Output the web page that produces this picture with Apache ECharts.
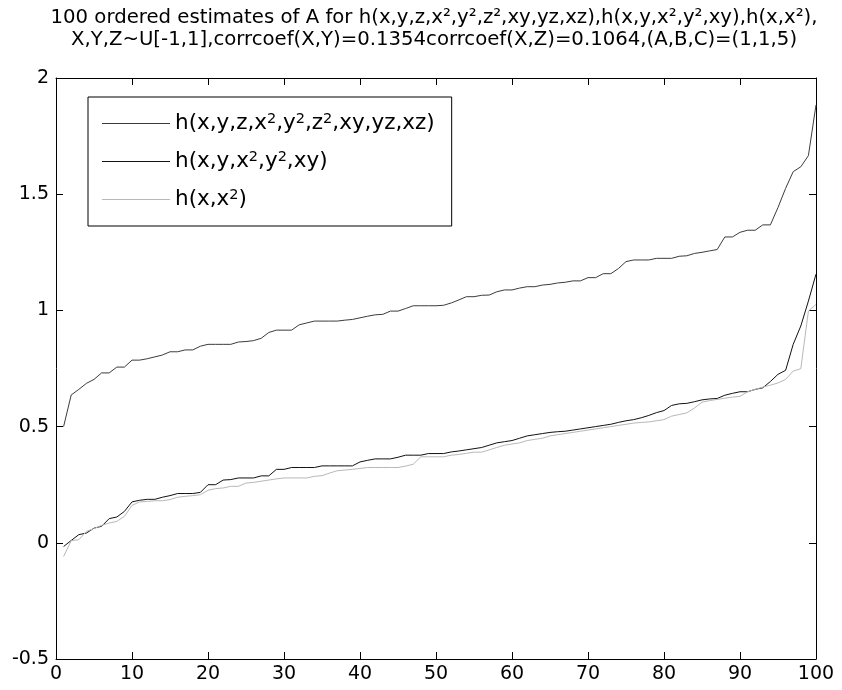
<!DOCTYPE html>
<html><head><meta charset="utf-8">
<script src="https://cdn.jsdelivr.net/npm/echarts@6/dist/echarts.min.js"></script>
<style>html,body{margin:0;padding:0;background:#fff}#c{width:842px;height:690px}</style>
</head><body><div id="c"></div>
<script>
const titleLines = [
  '100 ordered estimates of A for h(x,y,z,x\u00b2,y\u00b2,z\u00b2,xy,yz,xz),h(x,y,x\u00b2,y\u00b2,xy),h(x,x\u00b2),',
  'X,Y,Z~U[-1,1],corrcoef(X,Y)=0.1354corrcoef(X,Z)=0.1064,(A,B,C)=(1,1,5)'
];
const seriesNames = ['h(x,y,z,x\u00b2,y\u00b2,z\u00b2,xy,yz,xz)', 'h(x,y,x\u00b2,y\u00b2,xy)', 'h(x,x\u00b2)'];
const xIndex = [1,2,3,4,5,6,7,8,9,10,11,12,13,14,15,16,17,18,19,20,21,22,23,24,25,26,27,28,29,30,31,32,33,34,35,36,37,38,39,40,41,42,43,44,45,46,47,48,49,50,51,52,53,54,55,56,57,58,59,60,61,62,63,64,65,66,67,68,69,70,71,72,73,74,75,76,77,78,79,80,81,82,83,84,85,86,87,88,89,90,91,92,93,94,95,96,97,98,99,100];
const estA = [0.50,0.636,0.66,0.686,0.703,0.731,0.731,0.756,0.756,0.786,
 0.786,0.792,0.80,0.808,0.822,0.822,0.83,0.83,0.846,0.854,
 0.854,0.854,0.854,0.864,0.866,0.87,0.88,0.905,0.915,0.915,
 0.915,0.938,0.946,0.954,0.954,0.954,0.954,0.958,0.961,0.968,
 0.975,0.981,0.983,0.997,0.997,1.008,1.02,1.02,1.02,1.02,
 1.022,1.032,1.045,1.059,1.059,1.065,1.066,1.08,1.088,1.088,
 1.096,1.102,1.102,1.109,1.112,1.118,1.121,1.127,1.127,1.141,
 1.141,1.158,1.158,1.18,1.21,1.217,1.217,1.217,1.224,1.224,
 1.224,1.233,1.235,1.245,1.25,1.256,1.262,1.316,1.316,1.336,
 1.345,1.345,1.368,1.368,1.443,1.525,1.597,1.618,1.666,1.884];
const estB = [-0.016,0.010,0.035,0.042,0.063,0.071,0.104,0.111,0.135,0.176,
 0.183,0.187,0.187,0.196,0.203,0.212,0.212,0.212,0.217,0.25,
 0.25,0.27,0.272,0.279,0.279,0.279,0.288,0.288,0.316,0.316,
 0.324,0.324,0.324,0.324,0.331,0.331,0.331,0.331,0.331,0.348,
 0.355,0.361,0.361,0.361,0.368,0.377,0.377,0.377,0.384,0.384,
 0.384,0.391,0.395,0.40,0.405,0.41,0.42,0.43,0.435,0.44,
 0.45,0.46,0.465,0.47,0.475,0.478,0.48,0.485,0.49,0.495,
 0.50,0.505,0.51,0.518,0.525,0.53,0.538,0.548,0.56,0.569,
 0.591,0.598,0.60,0.607,0.615,0.619,0.621,0.635,0.643,0.65,
 0.65,0.66,0.667,0.694,0.725,0.742,0.854,0.933,1.04,1.156];
const estC = [-0.059,0.009,0.013,0.049,0.061,0.075,0.085,0.092,0.114,0.161,
 0.176,0.178,0.181,0.181,0.186,0.196,0.200,0.203,0.207,0.226,
 0.233,0.236,0.243,0.243,0.257,0.26,0.265,0.27,0.275,0.279,
 0.279,0.279,0.279,0.286,0.289,0.30,0.31,0.313,0.316,0.32,
 0.324,0.324,0.324,0.324,0.324,0.33,0.338,0.37,0.37,0.37,
 0.37,0.377,0.38,0.385,0.39,0.39,0.40,0.41,0.42,0.425,
 0.43,0.44,0.445,0.45,0.46,0.465,0.47,0.475,0.48,0.485,
 0.49,0.495,0.50,0.505,0.51,0.515,0.518,0.52,0.525,0.53,
 0.545,0.552,0.559,0.58,0.605,0.612,0.617,0.622,0.627,0.63,
 0.65,0.66,0.67,0.678,0.688,0.703,0.739,0.749,0.997,1.026];

const FONT = 'DejaVu Sans';
const chart = echarts.init(document.getElementById('c'), null, {renderer: 'canvas'});
const axisCommon = {
  type: 'value',
  axisLine: {show: true, onZero: false, lineStyle: {color: '#000', width: 1}},
  axisTick: {show: true, inside: true, length: 7, lineStyle: {color: '#000', width: 1}},
  splitLine: {show: false}
};
function mk(extra) { return Object.assign({}, axisCommon, extra); }
const lineColors = ['#3c3c3c', '#111111', '#b8b8b8'];
const allData = [estA, estB, estC];
chart.setOption({
  animation: false,
  backgroundColor: '#fff',
  graphic: [{
    type: 'text', x: 434, y: 7,
    style: {text: titleLines.join('\n'), textAlign: 'center', fontFamily: FONT, fontSize: 19.7, lineHeight: 22, fill: '#000'}
  }],
  grid: {left: 56, right: 26, top: 78, bottom: 31, outerBoundsMode: 'none'},
  legend: {
    orient: 'vertical', left: 88, top: 97,
    padding: [15, 17, 15, 14],
    icon: 'rect', itemWidth: 68, itemHeight: 1, itemGap: 15,
    borderColor: '#000', borderWidth: 1, backgroundColor: '#fff', borderRadius: 0,
    selectedMode: false,
    formatter: function (name) { return name.replace(/\u00b2/g, '{sup|2}'); },
    textStyle: {
      fontFamily: FONT, fontSize: 21.5, color: '#000', lineHeight: 23,
      rich: {sup: {fontFamily: FONT, fontSize: 14.5, lineHeight: 13, verticalAlign: 'top', color: '#000'}}
    },
    data: seriesNames
  },
  xAxis: [
    mk({min: 0, max: 100, interval: 10, position: 'bottom',
        axisLabel: {color: '#000', fontFamily: FONT, fontSize: 19, margin: 6}}),
    mk({min: 0, max: 100, interval: 10, position: 'top', axisLabel: {show: false}})
  ],
  yAxis: [
    mk({min: -0.5, max: 2, interval: 0.5, position: 'left',
        axisLabel: {color: '#000', fontFamily: FONT, fontSize: 19, margin: 7}}),
    mk({min: -0.5, max: 2, interval: 0.5, position: 'right', axisLabel: {show: false}})
  ],
  series: seriesNames.map((name, k) => ({
    name: name, type: 'line', symbol: 'none', showSymbol: false,
    xAxisIndex: 0, yAxisIndex: 0,
    lineStyle: {color: lineColors[k], width: 1},
    itemStyle: {color: lineColors[k]},
    data: xIndex.map((x, i) => [x, allData[k][i]])
  }))
});
</script></body></html>
